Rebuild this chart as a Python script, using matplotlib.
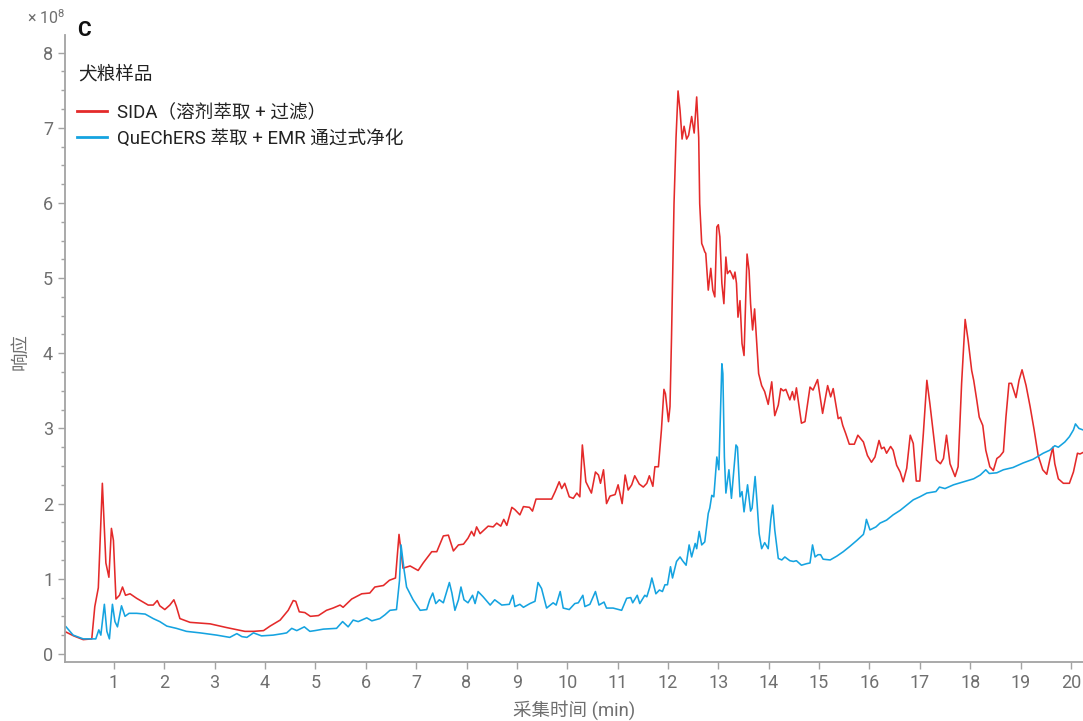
import matplotlib
matplotlib.use("Agg")
import matplotlib.pyplot as plt
from matplotlib.ticker import MultipleLocator
from matplotlib.lines import Line2D

# Total ion chromatograms, dog food sample (response in units of 1e8)
sida_time = [0.05, 0.20, 0.39, 0.56, 0.62, 0.69, 0.77, 0.84, 0.90, 0.95, 0.99, 1.04, 1.11, 1.17, 1.23,
             1.32, 1.45, 1.68, 1.78, 1.86, 1.91, 2.01, 2.11, 2.19, 2.24, 2.31, 2.51, 2.91, 3.24, 3.60,
             3.77, 3.97, 4.10, 4.30, 4.46, 4.56, 4.61, 4.68, 4.79, 4.90, 5.06, 5.22, 5.35, 5.49, 5.55,
             5.72, 5.92, 6.08, 6.18, 6.35, 6.47, 6.59, 6.66, 6.74, 6.88, 7.04, 7.14, 7.31, 7.41, 7.54,
             7.64, 7.74, 7.84, 7.94, 8.03, 8.10, 8.15, 8.20, 8.27, 8.43, 8.53, 8.60, 8.68, 8.74, 8.80,
             8.90, 8.96, 9.06, 9.13, 9.25, 9.31, 9.38, 9.52, 9.69, 9.76, 9.84, 9.89, 9.95, 10.04, 10.12,
             10.19, 10.25, 10.30, 10.37, 10.48, 10.56, 10.62, 10.66, 10.72, 10.78, 10.85, 10.95, 11.01,
             11.09, 11.15, 11.21, 11.28, 11.34, 11.43, 11.51, 11.58, 11.63, 11.70, 11.74, 11.81, 11.87,
             11.92, 11.95, 12.01, 12.04, 12.07, 12.12, 12.16, 12.20, 12.24, 12.28, 12.32, 12.37, 12.41,
             12.47, 12.52, 12.57, 12.61, 12.63, 12.67, 12.70, 12.73, 12.75, 12.80, 12.85, 12.89, 12.93,
             12.97, 13.00, 13.03, 13.07, 13.11, 13.15, 13.18, 13.23, 13.26, 13.30, 13.33, 13.36, 13.39,
             13.43, 13.47, 13.51, 13.55, 13.57, 13.61, 13.64, 13.68, 13.72, 13.76, 13.80, 13.86, 13.92,
             13.99, 14.06, 14.12, 14.19, 14.24, 14.29, 14.34, 14.42, 14.47, 14.51, 14.55, 14.65, 14.72,
             14.82, 14.88, 14.97, 15.07, 15.17, 15.23, 15.28, 15.38, 15.43, 15.47, 15.53, 15.60, 15.70,
             15.77, 15.88, 15.96, 16.04, 16.11, 16.19, 16.24, 16.29, 16.34, 16.42, 16.47, 16.54, 16.61,
             16.67, 16.74, 16.81, 16.87, 16.93, 17.00, 17.07, 17.14, 17.20, 17.27, 17.33, 17.41, 17.47,
             17.53, 17.60, 17.70, 17.76, 17.83, 17.90, 17.96, 18.03, 18.07, 18.13, 18.18, 18.25, 18.31,
             18.39, 18.46, 18.53, 18.59, 18.66, 18.71, 18.77, 18.82, 18.91, 18.97, 19.03, 19.11, 19.19,
             19.27, 19.35, 19.44, 19.52, 19.58, 19.64, 19.68, 19.75, 19.85, 19.97, 20.05, 20.13, 20.18,
             20.24]
sida_resp = [0.29, 0.24, 0.19, 0.20, 0.63, 0.88, 2.27, 1.21, 1.02, 1.67, 1.51, 0.73, 0.78, 0.89, 0.78,
             0.80, 0.74, 0.65, 0.65, 0.71, 0.64, 0.59, 0.65, 0.72, 0.63, 0.47, 0.42, 0.40, 0.35, 0.30,
             0.30, 0.31, 0.37, 0.45, 0.58, 0.71, 0.70, 0.56, 0.55, 0.50, 0.51, 0.58, 0.61, 0.65, 0.62,
             0.73, 0.80, 0.81, 0.89, 0.91, 0.98, 1.01, 1.59, 1.14, 1.17, 1.11, 1.21, 1.36, 1.36, 1.57,
             1.58, 1.37, 1.45, 1.46, 1.54, 1.63, 1.57, 1.69, 1.60, 1.70, 1.69, 1.74, 1.70, 1.79, 1.71,
             1.95, 1.92, 1.85, 1.96, 1.95, 1.90, 2.06, 2.06, 2.06, 2.16, 2.29, 2.20, 2.27, 2.09, 2.07,
             2.14, 2.09, 2.78, 2.29, 2.14, 2.42, 2.38, 2.27, 2.45, 2.00, 2.10, 2.12, 2.25,
             2.00, 2.38, 2.18, 2.25, 2.37, 2.26, 2.22, 2.27, 2.37, 2.23, 2.49, 2.49, 2.98,
             3.52, 3.46, 3.09, 3.29, 4.20, 5.99, 6.87, 7.49, 7.23, 6.85, 7.02, 6.85, 6.90,
             7.15, 6.93, 7.41, 6.87, 5.99, 5.46, 5.41, 5.35, 5.33, 4.84, 5.13, 4.84, 4.75,
             5.68, 5.71, 5.55, 4.93, 4.66, 5.28, 5.06, 5.10, 5.06, 4.99, 5.08, 4.93, 4.48,
             4.70, 4.13, 3.97, 4.88, 5.32, 5.10, 4.66, 4.31, 4.59, 4.17, 3.73, 3.57, 3.49,
             3.32, 3.62, 3.17, 3.31, 3.53, 3.50, 3.52, 3.38, 3.49, 3.38, 3.54, 3.07, 3.09,
             3.55, 3.51, 3.65, 3.20, 3.57, 3.42, 3.53, 3.13, 3.15, 3.04, 2.93, 2.79, 2.79,
             2.91, 2.82, 2.64, 2.55, 2.62, 2.84, 2.73, 2.75, 2.67, 2.76, 2.71, 2.51, 2.42,
             2.29, 2.47, 2.91, 2.80, 2.30, 2.30, 2.93, 3.64, 3.33, 2.93, 2.58, 2.53, 2.60,
             2.91, 2.53, 2.36, 2.49, 3.60, 4.45, 4.17, 3.77, 3.64, 3.38, 3.15, 3.04, 2.71,
             2.49, 2.44, 2.60, 2.63, 2.69, 3.15, 3.60, 3.60, 3.41, 3.64, 3.78, 3.57, 3.29,
             2.98, 2.64, 2.45, 2.39, 2.58, 2.75, 2.53, 2.33, 2.27, 2.27, 2.42, 2.67, 2.66,
             2.68]

quechers_time = [0.05, 0.19, 0.39, 0.56, 0.64, 0.70, 0.74, 0.81, 0.86, 0.91, 0.97, 1.02, 1.07, 1.15,
                 1.22, 1.30, 1.45, 1.62, 1.78, 1.91, 2.05, 2.24, 2.44, 2.71, 3.04, 3.30, 3.44, 3.54,
                 3.64, 3.77, 3.93, 4.16, 4.35, 4.43, 4.53, 4.63, 4.78, 4.89, 4.99, 5.16, 5.42, 5.54,
                 5.65, 5.75, 5.85, 6.02, 6.12, 6.28, 6.38, 6.48, 6.61, 6.67, 6.70, 6.76, 6.81, 6.94,
                 7.08, 7.21, 7.27, 7.33, 7.39, 7.46, 7.54, 7.66, 7.71, 7.77, 7.84, 7.89, 7.95, 8.03,
                 8.12, 8.17, 8.23, 8.33, 8.47, 8.56, 8.70, 8.85, 8.92, 8.96, 9.06, 9.13, 9.26, 9.36,
                 9.42, 9.49, 9.59, 9.72, 9.78, 9.86, 9.92, 10.04, 10.15, 10.22, 10.31, 10.35, 10.45,
                 10.56, 10.63, 10.73, 10.78, 10.91, 11.08, 11.18, 11.26, 11.30, 11.39, 11.44, 11.54,
                 11.58, 11.64, 11.68, 11.76, 11.83, 11.89, 11.94, 11.99, 12.05, 12.09, 12.17, 12.24,
                 12.29, 12.36, 12.42, 12.47, 12.54, 12.57, 12.62, 12.67, 12.73, 12.80, 12.83, 12.87,
                 12.91, 12.97, 13.01, 13.07, 13.09, 13.12, 13.15, 13.21, 13.26, 13.35, 13.38, 13.43,
                 13.47, 13.51, 13.58, 13.64, 13.67, 13.73, 13.77, 13.81, 13.86, 13.92, 13.99, 14.04,
                 14.08, 14.12, 14.19, 14.26, 14.32, 14.42, 14.49, 14.55, 14.65, 14.75, 14.82, 14.87,
                 14.92, 14.98, 15.03, 15.08, 15.22, 15.35, 15.48, 15.61, 15.75, 15.88, 15.91, 15.94,
                 16.01, 16.13, 16.21, 16.34, 16.47, 16.61, 16.74, 16.87, 17.00, 17.14, 17.32, 17.39,
                 17.50, 17.67, 17.87, 18.07, 18.20, 18.31, 18.38, 18.53, 18.66, 18.85, 19.05, 19.25,
                 19.45, 19.58, 19.68, 19.75, 19.88, 19.97, 20.05, 20.09, 20.16, 20.24]
quechers_resp = [0.36, 0.25, 0.20, 0.20, 0.20, 0.32, 0.25, 0.66, 0.30, 0.20, 0.66, 0.43, 0.36, 0.64,
                 0.50, 0.54, 0.54, 0.53, 0.47, 0.43, 0.37, 0.34, 0.30, 0.28, 0.25, 0.22, 0.27, 0.23,
                 0.22, 0.28, 0.24, 0.25, 0.27, 0.28, 0.34, 0.31, 0.36, 0.30, 0.31, 0.33, 0.34, 0.43,
                 0.36, 0.45, 0.43, 0.48, 0.44, 0.47, 0.52, 0.58, 0.59, 0.98, 1.45, 1.12, 0.89, 0.72,
                 0.58, 0.59, 0.72, 0.81, 0.67, 0.72, 0.68, 0.95, 0.81, 0.58, 0.72, 0.89, 0.72, 0.68,
                 0.78, 0.67, 0.83, 0.76, 0.65, 0.72, 0.65, 0.66, 0.78, 0.63, 0.66, 0.62, 0.67, 0.70,
                 0.95, 0.87, 0.61, 0.68, 0.65, 0.83, 0.61, 0.59, 0.67, 0.68, 0.78, 0.63, 0.66,
                 0.83, 0.65, 0.69, 0.61, 0.61, 0.58, 0.74, 0.75, 0.68, 0.78, 0.67, 0.78,
                 0.76, 0.89, 1.01, 0.80, 0.85, 0.83, 0.92, 0.92, 1.16, 1.01, 1.23, 1.29,
                 1.24, 1.18, 1.45, 1.29, 1.47, 1.40, 1.63, 1.45, 1.49, 1.87, 1.94, 2.11,
                 2.09, 2.62, 2.45, 3.86, 3.73, 2.62, 2.14, 2.45, 2.07, 2.78, 2.75, 2.09,
                 2.16, 1.89, 2.25, 1.90, 1.94, 2.36, 2.00, 1.60, 1.40, 1.48, 1.40, 1.78,
                 1.98, 1.65, 1.27, 1.25, 1.29, 1.24, 1.23, 1.24, 1.18, 1.20, 1.21, 1.45,
                 1.29, 1.32, 1.32, 1.26, 1.25, 1.30, 1.36, 1.43, 1.51, 1.59, 1.67, 1.79,
                 1.65, 1.69, 1.74, 1.78, 1.85, 1.91, 1.98, 2.05, 2.09, 2.14, 2.16, 2.22,
                 2.20, 2.25, 2.29, 2.33, 2.38, 2.45, 2.40, 2.41, 2.45, 2.48, 2.54, 2.59,
                 2.67, 2.71, 2.77, 2.75, 2.82, 2.89, 2.98, 3.06, 3.00, 2.98]

x_ticks = list(range(1, 21))
y_ticks = list(range(0, 9))

series_labels = ["SIDA（溶剂萃取 + 过滤）", "QuEChERS 萃取 + EMR 通过式净化"]
red = "#e42a2a"
blue = "#15a3e0"
grey = "#6f6f6f"
ink = "#222222"

plt.rcParams['font.family'] = ['Roboto', 'Noto Sans CJK SC', 'DejaVu Sans']
plt.rcParams['mathtext.fontset'] = 'custom'
plt.rcParams['mathtext.rm'] = 'Roboto'

fig = plt.figure(figsize=(10.83, 7.21), dpi=100)
ax = fig.add_axes([0.060, 0.082, 0.940, 0.869])

ax.plot(sida_time, sida_resp, color=red, lw=1.15)
ax.plot(quechers_time, quechers_resp, color=blue, lw=1.15)

ax.set_xlim(0.028, 20.24)
ax.set_ylim(-0.106, 8.23)

for side in ["top", "right"]:
    ax.spines[side].set_visible(False)
for side in ["left", "bottom"]:
    ax.spines[side].set_color("#a3a3a3")
    ax.spines[side].set_linewidth(1.3)

ax.set_xticks(x_ticks)
ax.set_yticks(y_ticks)
ax.yaxis.set_minor_locator(MultipleLocator(0.25))
ax.tick_params(axis="both", which="major", length=5, width=1, color="#a3a3a3",
               labelcolor=grey, labelsize=13)
ax.tick_params(axis="y", which="minor", length=3, width=1, color="#a3a3a3")

ax.set_xlabel("采集时间 (min)", color=grey, fontsize=13.3, labelpad=6)
fig.text(20 / 1083, 1 - 352 / 721, "响应", rotation=90, color=grey, fontsize=13.3,
         ha="center", va="center")
fig.text(27 / 1083, 1 - 18 / 721, "× 10$^{8}$", color=grey, fontsize=11.5, va="center")
fig.text(77 / 1083, 1 - 30 / 721, "C", color="#111111", fontsize=15, weight="bold", va="center")
fig.text(78 / 1083, 1 - 75 / 721, "犬粮样品", color=ink, fontsize=13.4, va="center")

handles = [Line2D([], [], color=red, lw=2), Line2D([], [], color=blue, lw=2)]
leg = fig.legend(handles, series_labels, loc="upper left",
                 bbox_to_anchor=(77 / 1083, 1 - 104 / 721), frameon=False, fontsize=13.4,
                 handlelength=1.6, handletextpad=0.55, labelspacing=0.42,
                 borderpad=0, borderaxespad=0)
for t in leg.get_texts():
    t.set_color(ink)

fig.savefig("out.png", dpi=100)
